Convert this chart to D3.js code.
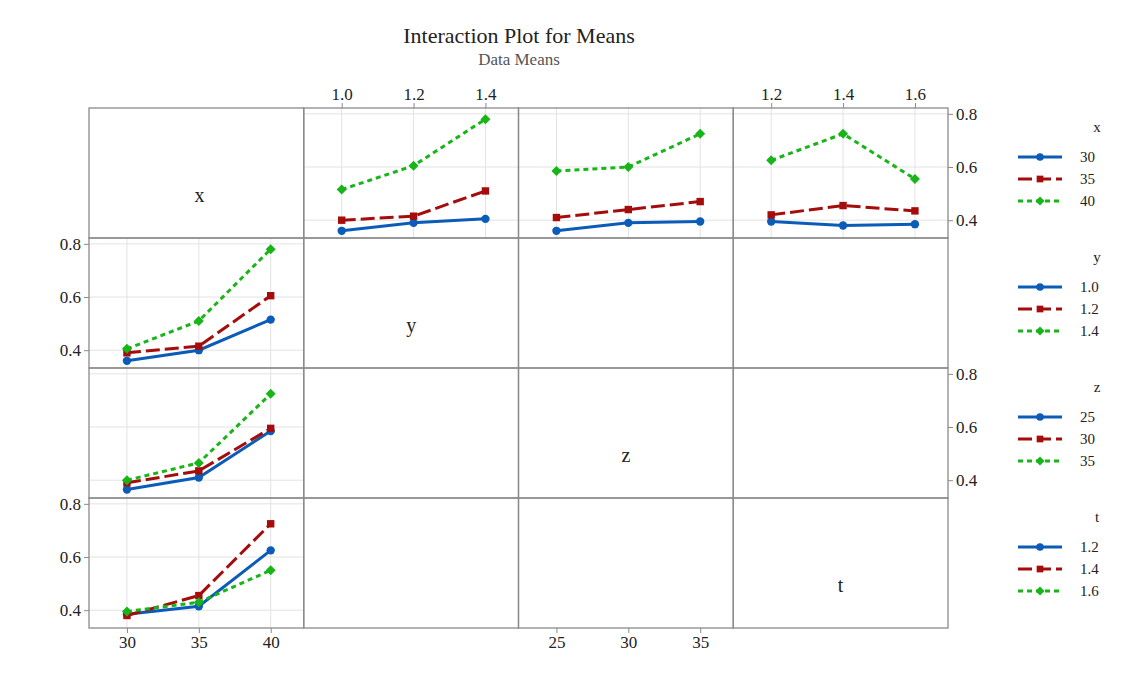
<!DOCTYPE html><html><head><meta charset="utf-8">
<script src="https://cdn.jsdelivr.net/npm/d3@7"></script>
<style>body{margin:0;background:#fff}text{font-family:"Liberation Serif","DejaVu Serif",serif}</style></head><body>
<svg id="c" width="1147" height="676"></svg>
<script>
const factors=["x","y","z","t"];
const levels={x:[30,35,40],y:[1.0,1.2,1.4],z:[25,30,35],t:[1.2,1.4,1.6]};
const tickLabels={x:["30","35","40"],y:["1.0","1.2","1.4"],z:["25","30","35"],t:["1.2","1.4","1.6"]};
const yTicks=[0.4,0.6,0.8];
const x_by_y={30:[0.36,0.39,0.405],35:[0.40,0.415,0.51],40:[0.515,0.605,0.78]};
const x_by_z={30:[0.36,0.39,0.395],35:[0.41,0.44,0.47],40:[0.585,0.60,0.725]};
const x_by_t={30:[0.395,0.38,0.385],35:[0.42,0.455,0.435],40:[0.625,0.725,0.555]};
const y_by_x={"1.0":[0.36,0.40,0.515],"1.2":[0.39,0.415,0.605],"1.4":[0.405,0.51,0.78]};
const z_by_x={25:[0.365,0.41,0.585],30:[0.39,0.435,0.595],35:[0.40,0.465,0.725]};
const t_by_x={"1.2":[0.385,0.415,0.625],"1.4":[0.38,0.455,0.725],"1.6":[0.395,0.43,0.55]};
const panels=[
 {r:0,c:1,data:x_by_y,tr:"x"},{r:0,c:2,data:x_by_z,tr:"x"},{r:0,c:3,data:x_by_t,tr:"x"},
 {r:1,c:0,data:y_by_x,tr:"y"},{r:2,c:0,data:z_by_x,tr:"z"},{r:3,c:0,data:t_by_x,tr:"t"}];
const colors=["#0b5cb8","#a50d0d","#17b517"];
const dashes=[null,"14,5","5,4"];
const syms=[d3.symbolCircle,d3.symbolSquare,d3.symbolSquare];
const rot=[0,0,45];

const svg=d3.select("#c");
const L=89,T=108,W=214.75,H=130;
const colX=d3.scaleBand().domain([0,1,2,3]).range([L,L+4*W]);
const rowY=d3.scaleBand().domain([0,1,2,3]).range([T,T+4*H]);
svg.append("text").attr("x",519).attr("y",43).attr("text-anchor","middle").attr("font-size",22).attr("fill","#222").text("Interaction Plot for Means");
svg.append("text").attr("x",519).attr("y",65).attr("text-anchor","middle").attr("font-size",17).attr("fill","#555").text("Data Means");

function xs(f,c){const lv=levels[f],rg=lv[2]-lv[0],x0=colX(c);
 return d3.scaleLinear().domain([lv[0]-0.264*rg,lv[2]+0.23*rg]).range([x0,x0+W]);}
function ys(r){const y0=rowY(r);return d3.scaleLinear().domain([0.333,0.822]).range([y0+H,y0]);}

panels.forEach(p=>{
 const f=factors[p.c],sx=xs(f,p.c),sy=ys(p.r),g=svg.append("g");
 levels[f].forEach(v=>g.append("line").attr("x1",sx(v)).attr("x2",sx(v)).attr("y1",rowY(p.r)).attr("y2",rowY(p.r)+H).attr("stroke","#e3e3e3"));
 yTicks.forEach(v=>g.append("line").attr("x1",colX(p.c)).attr("x2",colX(p.c)+W).attr("y1",sy(v)).attr("y2",sy(v)).attr("stroke","#e3e3e3"));
});
for(let r=0;r<4;r++)for(let c=0;c<4;c++)
 svg.append("rect").attr("x",colX(c)).attr("y",rowY(r)).attr("width",W).attr("height",H).attr("fill","none").attr("stroke","#8a8a8a").attr("stroke-width",1.3);
factors.forEach((f,i)=>svg.append("text").attr("x",colX(i)+W/2+(i==0?3:0)).attr("y",rowY(i)+H*0.72).attr("text-anchor","middle").attr("font-size",20).attr("fill","#222").text(f));

function xAxis(c,top){const f=factors[c],sx=xs(f,c);
 const ax=(top?d3.axisTop(sx):d3.axisBottom(sx)).tickValues(levels[f]).tickFormat((d,i)=>tickLabels[f][i]).tickSize(5).tickSizeOuter(0);
 const g=svg.append("g").attr("transform",`translate(0,${top?T:T+4*H})`).call(ax);
 g.select(".domain").remove();g.selectAll("line").attr("stroke","#8a8a8a");
 g.selectAll("text").attr("font-size",17).attr("fill","#222").attr("font-family","Liberation Serif");}
xAxis(1,true);xAxis(3,true);xAxis(0,false);xAxis(2,false);
function yAxis(r,left){const sy=ys(r);
 const ax=(left?d3.axisLeft(sy):d3.axisRight(sy)).tickValues(yTicks).tickFormat(d3.format(".1f")).tickSize(5).tickSizeOuter(0);
 const g=svg.append("g").attr("transform",`translate(${left?L:L+4*W},0)`).call(ax);
 g.select(".domain").remove();g.selectAll("line").attr("stroke","#8a8a8a");
 g.selectAll("text").attr("font-size",17).attr("fill","#222").attr("font-family","Liberation Serif");}
yAxis(1,true);yAxis(3,true);yAxis(0,false);yAxis(2,false);

panels.forEach(p=>{
 const f=factors[p.c],sx=xs(f,p.c),sy=ys(p.r);
 tickLabels[p.tr].forEach((k,i)=>{
  const vals=p.data[k]??p.data[+k];
  const pts=vals.map((v,j)=>[sx(levels[f][j]),sy(v)]);
  svg.append("path").attr("d",d3.line()(pts)).attr("fill","none").attr("stroke",colors[i]).attr("stroke-width",3).attr("stroke-dasharray",dashes[i]);
  pts.forEach(pt=>svg.append("path").attr("d",d3.symbol(syms[i],i==2?50:55)()).attr("transform",`translate(${pt}) rotate(${rot[i]})`).attr("fill",colors[i]));
 });
});

factors.forEach((f,gi)=>{
 const y0=132+gi*130;
 svg.append("text").attr("x",1097).attr("y",y0).attr("text-anchor","middle").attr("font-size",15).attr("fill","#222").text(f);
 tickLabels[f].forEach((lab,i)=>{
  const y=y0+25+i*22;
  svg.append("line").attr("x1",1018).attr("x2",1062).attr("y1",y).attr("y2",y).attr("stroke",colors[i]).attr("stroke-width",3).attr("stroke-dasharray",dashes[i]);
  svg.append("path").attr("d",d3.symbol(syms[i],i==2?42:45)()).attr("transform",`translate(1040,${y}) rotate(${rot[i]})`).attr("fill",colors[i]);
  svg.append("text").attr("x",1080).attr("y",y+5).attr("font-size",15).attr("fill","#222").text(lab);
 });
});
</script></body></html>
